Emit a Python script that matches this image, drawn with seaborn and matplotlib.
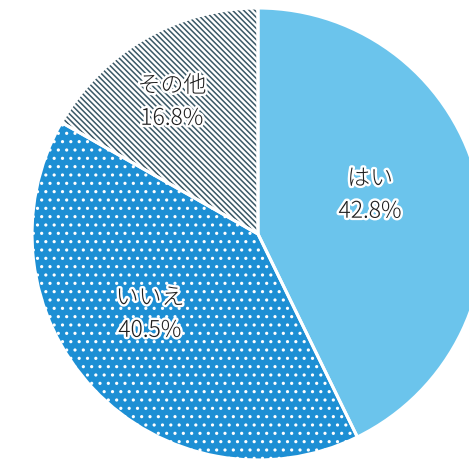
import matplotlib
matplotlib.use('Agg')
import matplotlib.pyplot as plt
import matplotlib.patheffects as pe
import seaborn as sns

sns.set_theme(style='white')
plt.rcParams['font.family'] = ['Noto Sans CJK JP', 'DejaVu Sans']
plt.rcParams['hatch.linewidth'] = 1.1

# data
categories = ['はい', 'いいえ', 'その他']
values = [42.8, 40.5, 16.8]
pct_labels = ['42.8%', '40.5%', '16.8%']

# style
face_colors = ['#6BC4EC', '#1D8FD4', '#FFFFFF']
hatch_colors = ['#6BC4EC', '#FFFFFF', '#3A5866']
hatches = [None, '..', '\\\\\\\\\\\\']
label_pos = [(0.496, 0.173), (-0.478, -0.354), (-0.381, 0.584)]

fig = plt.figure(figsize=(4.69, 4.61), dpi=100)
ax = fig.add_axes([0, 0, 1, 1])

wedges, _ = ax.pie(values, startangle=90, counterclock=False, colors=face_colors,
                   wedgeprops=dict(linewidth=0))
for w, h, hc in zip(wedges, hatches, hatch_colors):
    w.set_edgecolor(hc)
    w.set_linewidth(0)
    if h:
        w.set_hatch(h)

# white separators
ax.pie(values, startangle=90, counterclock=False,
       wedgeprops=dict(fill=False, edgecolor='white', linewidth=2.2))

for cat, pct, (x, y) in zip(categories, pct_labels, label_pos):
    ax.text(x, y, f'{cat}\n{pct}', ha='center', va='center', fontsize=16.5,
            color='#1E1E1E', linespacing=1.4, fontweight='light',
            path_effects=[pe.withStroke(linewidth=3.5, foreground='white')])

ax.set_xlim(-258 / 226, (469 - 258) / 226)
ax.set_ylim(-(461 - 234) / 226, 234 / 226)
ax.set_aspect('auto')
ax.axis('off')
fig.savefig('out.png', dpi=100)
